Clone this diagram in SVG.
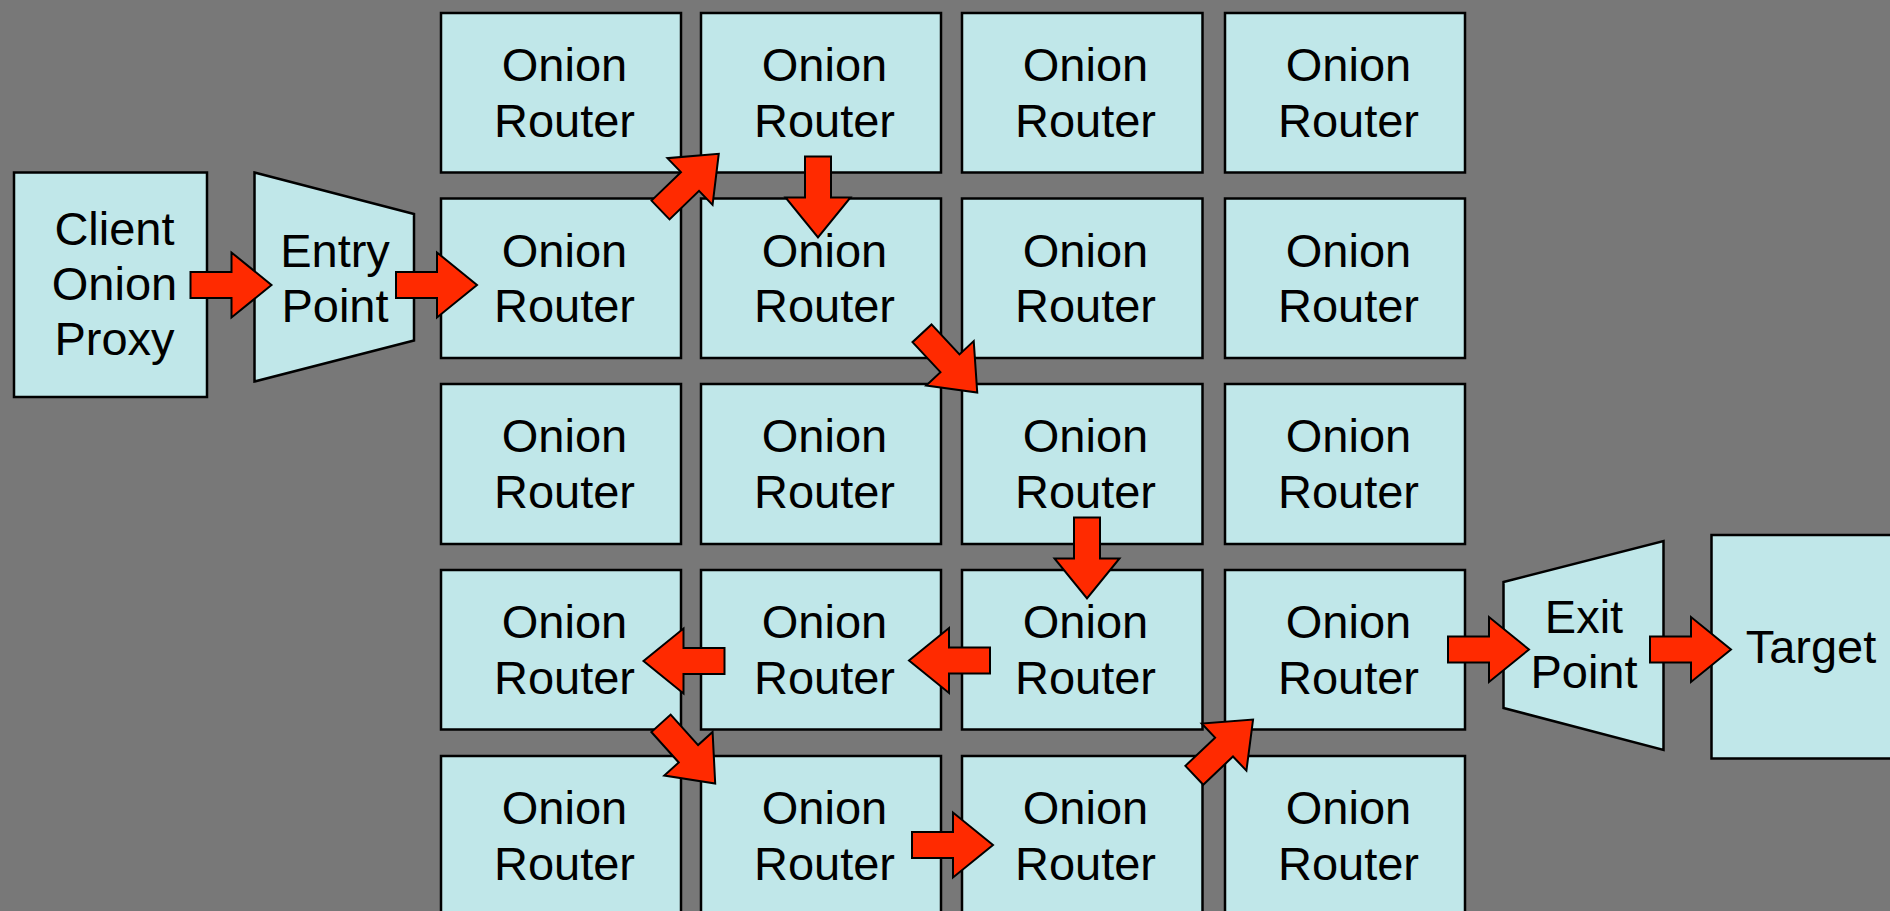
<svg xmlns="http://www.w3.org/2000/svg" xmlns:xlink="http://www.w3.org/1999/xlink" width="1890" height="911" viewBox="0 0 1890 911">
<style>
.box{fill:#c0e7e9;stroke:#000;stroke-width:2.5}
.t{font-family:"Liberation Sans",Arial,sans-serif;font-size:47px;fill:#000;text-anchor:middle}
.arr{fill:#ff2a00;stroke:#000;stroke-width:2;stroke-linejoin:miter}
</style>
<defs>
<path id="arrow" d="M0,-13 H41 V-32.5 L81,0 L41,32.5 V13 H0 Z"/>
</defs>
<rect x="0" y="0" width="1890" height="911" fill="#787878"/>

<g id="client">
<rect class="box" x="14" y="172.5" width="193" height="224.5"/>
<text class="t" x="114.5" y="245">Client</text>
<text class="t" x="114.5" y="300">Onion</text>
<text class="t" x="114.5" y="355">Proxy</text>
</g>

<g id="entry">
<polygon class="box" points="254.5,172.5 414,214 414,340.5 254.5,381.5"/>
<text class="t" x="335" y="266.5">Entry</text>
<text class="t" x="335" y="321.5">Point</text>
</g>

<g id="r11"><rect class="box" x="441" y="13" width="240" height="159.5"/><text class="t" x="564.5" y="81">Onion</text><text class="t" x="564.5" y="136.5">Router</text></g>
<g id="r12"><rect class="box" x="701" y="13" width="240" height="159.5"/><text class="t" x="824.5" y="81">Onion</text><text class="t" x="824.5" y="136.5">Router</text></g>
<g id="r13"><rect class="box" x="962" y="13" width="240.5" height="159.5"/><text class="t" x="1085.5" y="81">Onion</text><text class="t" x="1085.5" y="136.5">Router</text></g>
<g id="r14"><rect class="box" x="1225" y="13" width="240" height="159.5"/><text class="t" x="1348.5" y="81">Onion</text><text class="t" x="1348.5" y="136.5">Router</text></g>

<g id="r21"><rect class="box" x="441" y="198.5" width="240" height="159.5"/><text class="t" x="564.5" y="266.5">Onion</text><text class="t" x="564.5" y="322">Router</text></g>
<g id="r22"><rect class="box" x="701" y="198.5" width="240" height="159.5"/><text class="t" x="824.5" y="266.5">Onion</text><text class="t" x="824.5" y="322">Router</text></g>
<g id="r23"><rect class="box" x="962" y="198.5" width="240.5" height="159.5"/><text class="t" x="1085.5" y="266.5">Onion</text><text class="t" x="1085.5" y="322">Router</text></g>
<g id="r24"><rect class="box" x="1225" y="198.5" width="240" height="159.5"/><text class="t" x="1348.5" y="266.5">Onion</text><text class="t" x="1348.5" y="322">Router</text></g>

<g id="r31"><rect class="box" x="441" y="384" width="240" height="160"/><text class="t" x="564.5" y="452">Onion</text><text class="t" x="564.5" y="507.5">Router</text></g>
<g id="r32"><rect class="box" x="701" y="384" width="240" height="160"/><text class="t" x="824.5" y="452">Onion</text><text class="t" x="824.5" y="507.5">Router</text></g>
<g id="r33"><rect class="box" x="962" y="384" width="240.5" height="160"/><text class="t" x="1085.5" y="452">Onion</text><text class="t" x="1085.5" y="507.5">Router</text></g>
<g id="r34"><rect class="box" x="1225" y="384" width="240" height="160"/><text class="t" x="1348.5" y="452">Onion</text><text class="t" x="1348.5" y="507.5">Router</text></g>

<g id="r41"><rect class="box" x="441" y="570" width="240" height="159.5"/><text class="t" x="564.5" y="638">Onion</text><text class="t" x="564.5" y="693.5">Router</text></g>
<g id="r42"><rect class="box" x="701" y="570" width="240" height="159.5"/><text class="t" x="824.5" y="638">Onion</text><text class="t" x="824.5" y="693.5">Router</text></g>
<g id="r43"><rect class="box" x="962" y="570" width="240.5" height="159.5"/><text class="t" x="1085.5" y="638">Onion</text><text class="t" x="1085.5" y="693.5">Router</text></g>
<g id="r44"><rect class="box" x="1225" y="570" width="240" height="159.5"/><text class="t" x="1348.5" y="638">Onion</text><text class="t" x="1348.5" y="693.5">Router</text></g>

<g id="r51"><rect class="box" x="441" y="756" width="240" height="160"/><text class="t" x="564.5" y="824">Onion</text><text class="t" x="564.5" y="879.5">Router</text></g>
<g id="r52"><rect class="box" x="701" y="756" width="240" height="160"/><text class="t" x="824.5" y="824">Onion</text><text class="t" x="824.5" y="879.5">Router</text></g>
<g id="r53"><rect class="box" x="962" y="756" width="240.5" height="160"/><text class="t" x="1085.5" y="824">Onion</text><text class="t" x="1085.5" y="879.5">Router</text></g>
<g id="r54"><rect class="box" x="1225" y="756" width="240" height="160"/><text class="t" x="1348.5" y="824">Onion</text><text class="t" x="1348.5" y="879.5">Router</text></g>

<g id="exit">
<polygon class="box" points="1503.5,582 1663.5,541 1663.5,750 1503.5,708"/>
<text class="t" x="1584" y="632.5">Exit</text>
<text class="t" x="1584" y="688">Point</text>
</g>

<g id="target">
<rect class="box" x="1711.5" y="535" width="200" height="223.5"/>
<text class="t" x="1811" y="662.5">Target</text>
</g>

<g id="connectors" class="arr">
<use xlink:href="#arrow" href="#arrow" transform="translate(190.5,285)"/>
<use xlink:href="#arrow" href="#arrow" transform="translate(396,285)"/>
<use xlink:href="#arrow" href="#arrow" transform="translate(660.5,210) rotate(-44)"/>
<use xlink:href="#arrow" href="#arrow" transform="translate(818,156.5) rotate(90)"/>
<use xlink:href="#arrow" href="#arrow" transform="translate(922,333.3) rotate(47)"/>
<use xlink:href="#arrow" href="#arrow" transform="translate(1087,517.5) rotate(90)"/>
<use xlink:href="#arrow" href="#arrow" transform="translate(990,660.5) rotate(180)"/>
<use xlink:href="#arrow" href="#arrow" transform="translate(724.5,661) rotate(180)"/>
<use xlink:href="#arrow" href="#arrow" transform="translate(661,723.3) rotate(48)"/>
<use xlink:href="#arrow" href="#arrow" transform="translate(912,845)"/>
<use xlink:href="#arrow" href="#arrow" transform="translate(1194.3,775.3) rotate(-43.5)"/>
<use xlink:href="#arrow" href="#arrow" transform="translate(1448,649.5)"/>
<use xlink:href="#arrow" href="#arrow" transform="translate(1650,649.5)"/>
</g>
</svg>
